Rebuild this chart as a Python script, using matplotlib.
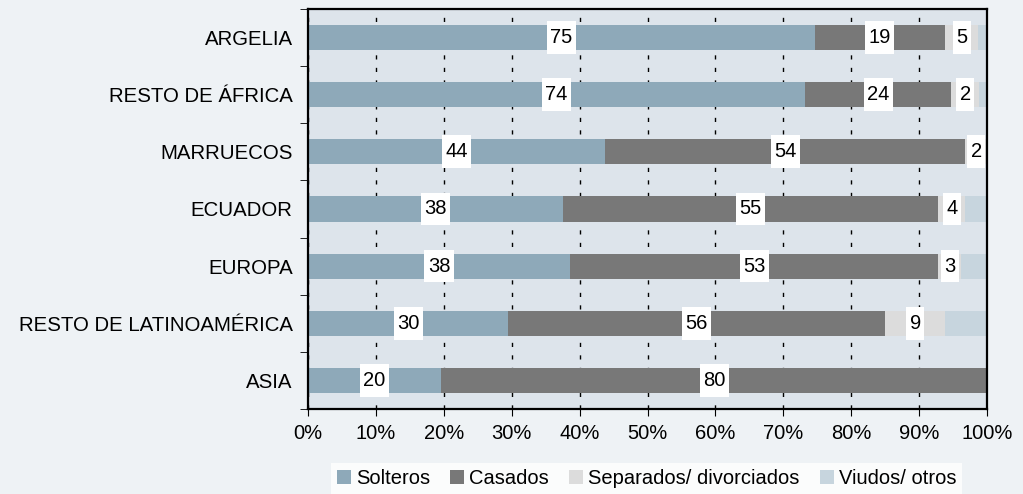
import numpy as np
import matplotlib.pyplot as plt

plt.rcParams['font.family'] = ['Liberation Sans', 'DejaVu Sans']

# categories, top to bottom
regiones = ["ARGELIA", "RESTO DE ÁFRICA", "MARRUECOS", "ECUADOR", "EUROPA",
            "RESTO DE LATINOAMÉRICA", "ASIA"]

# shares (%)
solteros = [74.6, 73.2, 43.7, 37.6, 38.6, 29.5, 19.6]
casados = [19.2, 21.5, 53.1, 55.2, 54.2, 55.5, 80.4]
separados = [4.9, 4.1, 3.2, 4.0, 3.4, 8.8, 0.0]
viudos = [1.3, 1.2, 0.0, 3.2, 3.8, 6.2, 0.0]

# printed labels (None = no label)
lab_solteros = ["75", "74", "44", "38", "38", "30", "20"]
lab_casados = ["19", "24", "54", "55", "53", "56", "80"]
lab_separados = ["5", "2", "2", "4", "3", "9", None]

series = ["Solteros", "Casados", "Separados/ divorciados", "Viudos/ otros"]
colores = ["#8ea9b9", "#787878", "#dcdcdc", "#c7d5de"]

fig = plt.figure(figsize=(10.23, 4.94), dpi=100)
fig.patch.set_facecolor("#eef2f5")
ax = fig.add_axes([0.301, 0.172, 0.664, 0.810])
ax.set_facecolor("#dde4eb")

y = np.arange(len(regiones))
datos = [solteros, casados, separados, viudos]
etiquetas = [lab_solteros, lab_casados, lab_separados, None]
left = np.zeros(len(regiones))
for vals, col, name, labs in zip(datos, colores, series, etiquetas):
    vals = np.array(vals)
    ax.barh(y, vals, left=left, height=0.44, color=col, label=name, zorder=2)
    if labs is not None:
        for i, t in enumerate(labs):
            if t is None:
                continue
            ax.text(left[i] + vals[i] / 2, y[i], t, ha="center", va="center",
                    fontsize=14.5, zorder=4,
                    bbox=dict(boxstyle="square,pad=0.17", fc="white",
                              ec="none", mutation_aspect=2.0))
    left += vals

ax.set_xlim(0, 100)
ax.set_ylim(len(regiones) - 0.5, -0.5)
ax.set_xticks(np.arange(0, 101, 10))
ax.set_xticklabels([f"{v}%" for v in range(0, 101, 10)], fontsize=14.5)
ax.set_yticks(y)
ax.set_yticklabels(regiones, fontsize=14.7)
ax.tick_params(axis="y", which="major", length=0, pad=11)
ax.set_yticks(np.arange(-0.5, len(regiones)), minor=True)
ax.tick_params(axis="y", which="minor", length=6, direction="out")
ax.tick_params(axis="x", length=5, direction="out", pad=6)

ax.set_axisbelow(True)
ax.xaxis.grid(True, color="black", linestyle=(0, (3, 6)), linewidth=1)
for s in ax.spines.values():
    s.set_linewidth(1.6)
    s.set_color("black")

leg = fig.legend(loc="lower center", bbox_to_anchor=(0.632, -0.02), ncol=4,
                 fontsize=14.5, frameon=True, fancybox=False, handlelength=0.7,
                 handleheight=0.7, handletextpad=0.25, columnspacing=1.0,
                 borderpad=0.3)
leg.get_frame().set_facecolor("white")
leg.get_frame().set_edgecolor("none")

fig.savefig("out.png", dpi=100, facecolor=fig.get_facecolor())
